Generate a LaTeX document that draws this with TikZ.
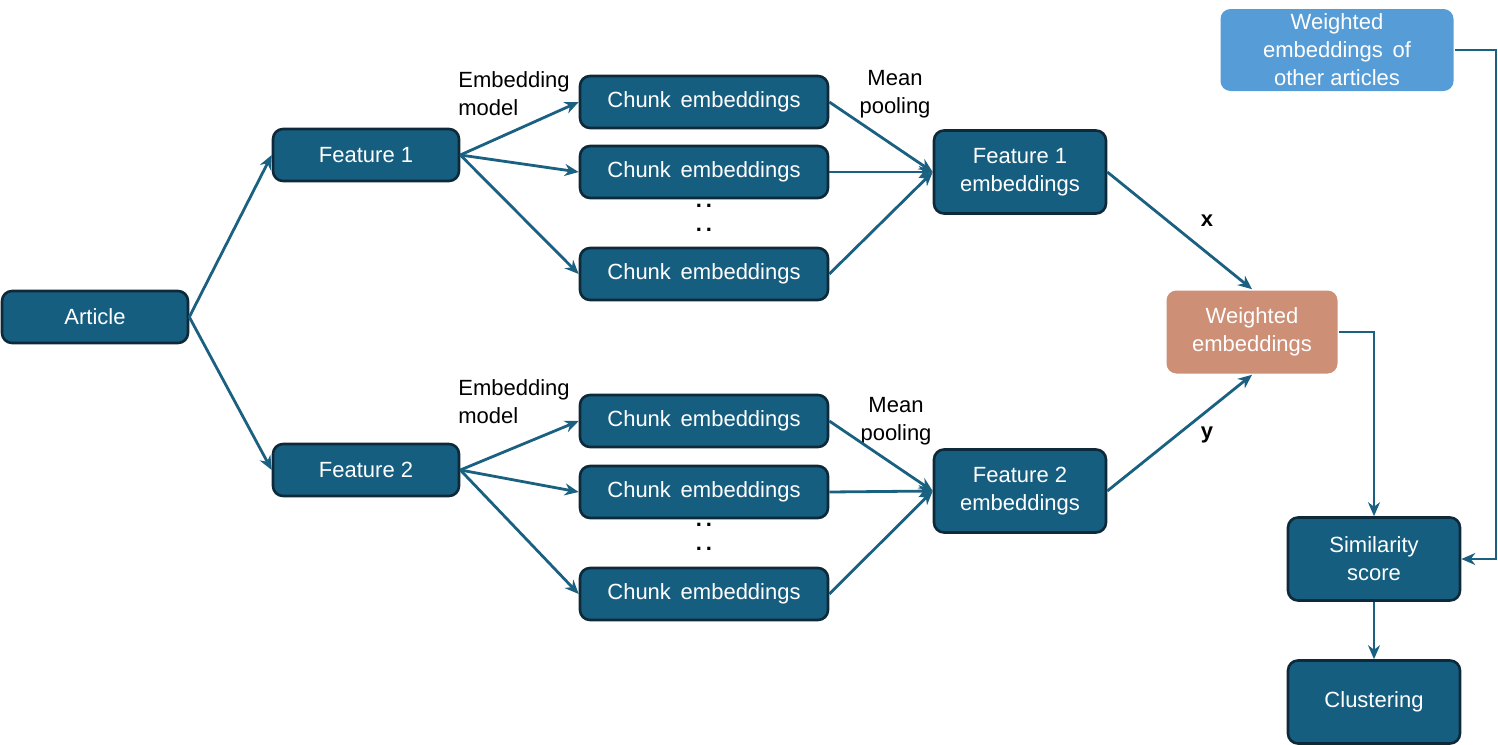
\documentclass[tikz,border=0pt]{standalone}
\usepackage{fontspec}
\setmainfont{Liberation Sans}
\usetikzlibrary{arrows.meta}
\definecolor{nodeblue}{RGB}{22,94,128}
\definecolor{nodeedge}{RGB}{14,42,58}
\definecolor{linec}{RGB}{26,96,128}
\definecolor{orangec}{RGB}{205,143,118}
\definecolor{lightb}{RGB}{86,157,216}
\begin{document}
\begin{tikzpicture}[x=0.5pt,y=-0.5pt,
  txt/.style={font=\fontsize{11}{14}\selectfont},
  box/.style={txt, draw=nodeedge, line width=1.3pt, fill=nodeblue, rounded corners=5pt, text=white, align=center, inner sep=0pt},
  small/.style={box, minimum width=93pt, minimum height=26pt},
  chunk/.style={box, minimum width=124pt, minimum height=26pt},
  tall/.style={box, minimum width=86pt, minimum height=41.5pt},
  arr/.style={draw=linec, line width=1.4pt, -{Stealth[length=7pt,width=6pt]}},
  lbl/.style={txt, align=left, inner sep=0pt},
  dots/.style={txt, inner sep=0pt, font=\fontsize{11}{14}\selectfont\bfseries}
]
\useasboundingbox (0,0) rectangle (1498,744);

\node[small] (art) at (95,317) {Article};
\node[small] (f1) at (366,155) {Feature 1};
\node[small] (f2) at (366,470) {Feature 2};

\node[chunk] (c1) at (704,102) {Chunk\, embeddings};
\node[chunk] (c2) at (704,172) {Chunk\, embeddings};
\node[chunk] (c3) at (704,274) {Chunk\, embeddings};
\node[chunk] (c4) at (704,421) {Chunk\, embeddings};
\node[chunk] (c5) at (704,492) {Chunk\, embeddings};
\node[chunk] (c6) at (704,594) {Chunk\, embeddings};

\node[dots] (d1) at (704,206) {.\kern2pt.};
\node[dots] (d2) at (704,230) {.\kern2pt.};
\node[dots] (d3) at (704,525) {.\kern2pt.};
\node[dots] (d4) at (704,549) {.\kern2pt.};

\node[tall] (fe1) at (1020,172) {Feature 1\\embeddings};
\node[tall] (fe2) at (1020,491) {Feature 2\\embeddings};

\node[tall, draw=none, fill=orangec, minimum width=85.5pt] (we) at (1252,332) {Weighted\\embeddings};
\node[box, draw=none, fill=lightb, minimum width=116.5pt, minimum height=41pt] (oth) at (1337,50) {Weighted\\embeddings\, of\\other articles};

\node[tall] (sim) at (1374,559) {Similarity\\score};
\node[tall] (clu) at (1374,702) {Clustering};

\node[lbl, anchor=west] (em1) at (458,94) {Embedding\\model};
\node[lbl, anchor=west] (em2) at (458,402) {Embedding\\model};
\node[txt, align=center, inner sep=0pt] (mp1) at (895,94) {Mean\\pooling};
\node[txt, align=center, inner sep=0pt] (mp2) at (896,421) {Mean\\pooling};
\node[txt, font=\fontsize{11}{14}\selectfont\bfseries, inner sep=0pt] (lx) at (1207,221) {x};
\node[txt, font=\fontsize{11}{14}\selectfont\bfseries, inner sep=0pt] (ly) at (1207,435) {y};

\draw[arr] (art.east) -- (f1.west);
\draw[arr] (art.east) -- (f2.west);
\foreach \c in {c1,c2,c3} \draw[arr] (f1.east) -- (\c.west);
\foreach \c in {c4,c5,c6} \draw[arr] (f2.east) -- (\c.west);
\foreach \c in {c1,c2,c3} \draw[arr] (\c.east) -- (fe1.west);
\foreach \c in {c4,c5,c6} \draw[arr] (\c.east) -- (fe2.west);
\draw[arr] (fe1.east) -- (we.north);
\draw[arr] (fe2.east) -- (we.south);
\draw[arr] (we.east) -| (sim.north);
\coordinate (corner) at (1496,50);
\draw[arr] (oth.east) -- (corner) |- (sim.east);
\draw[arr] (sim.south) -- (clu.north);
\end{tikzpicture}
\end{document}
